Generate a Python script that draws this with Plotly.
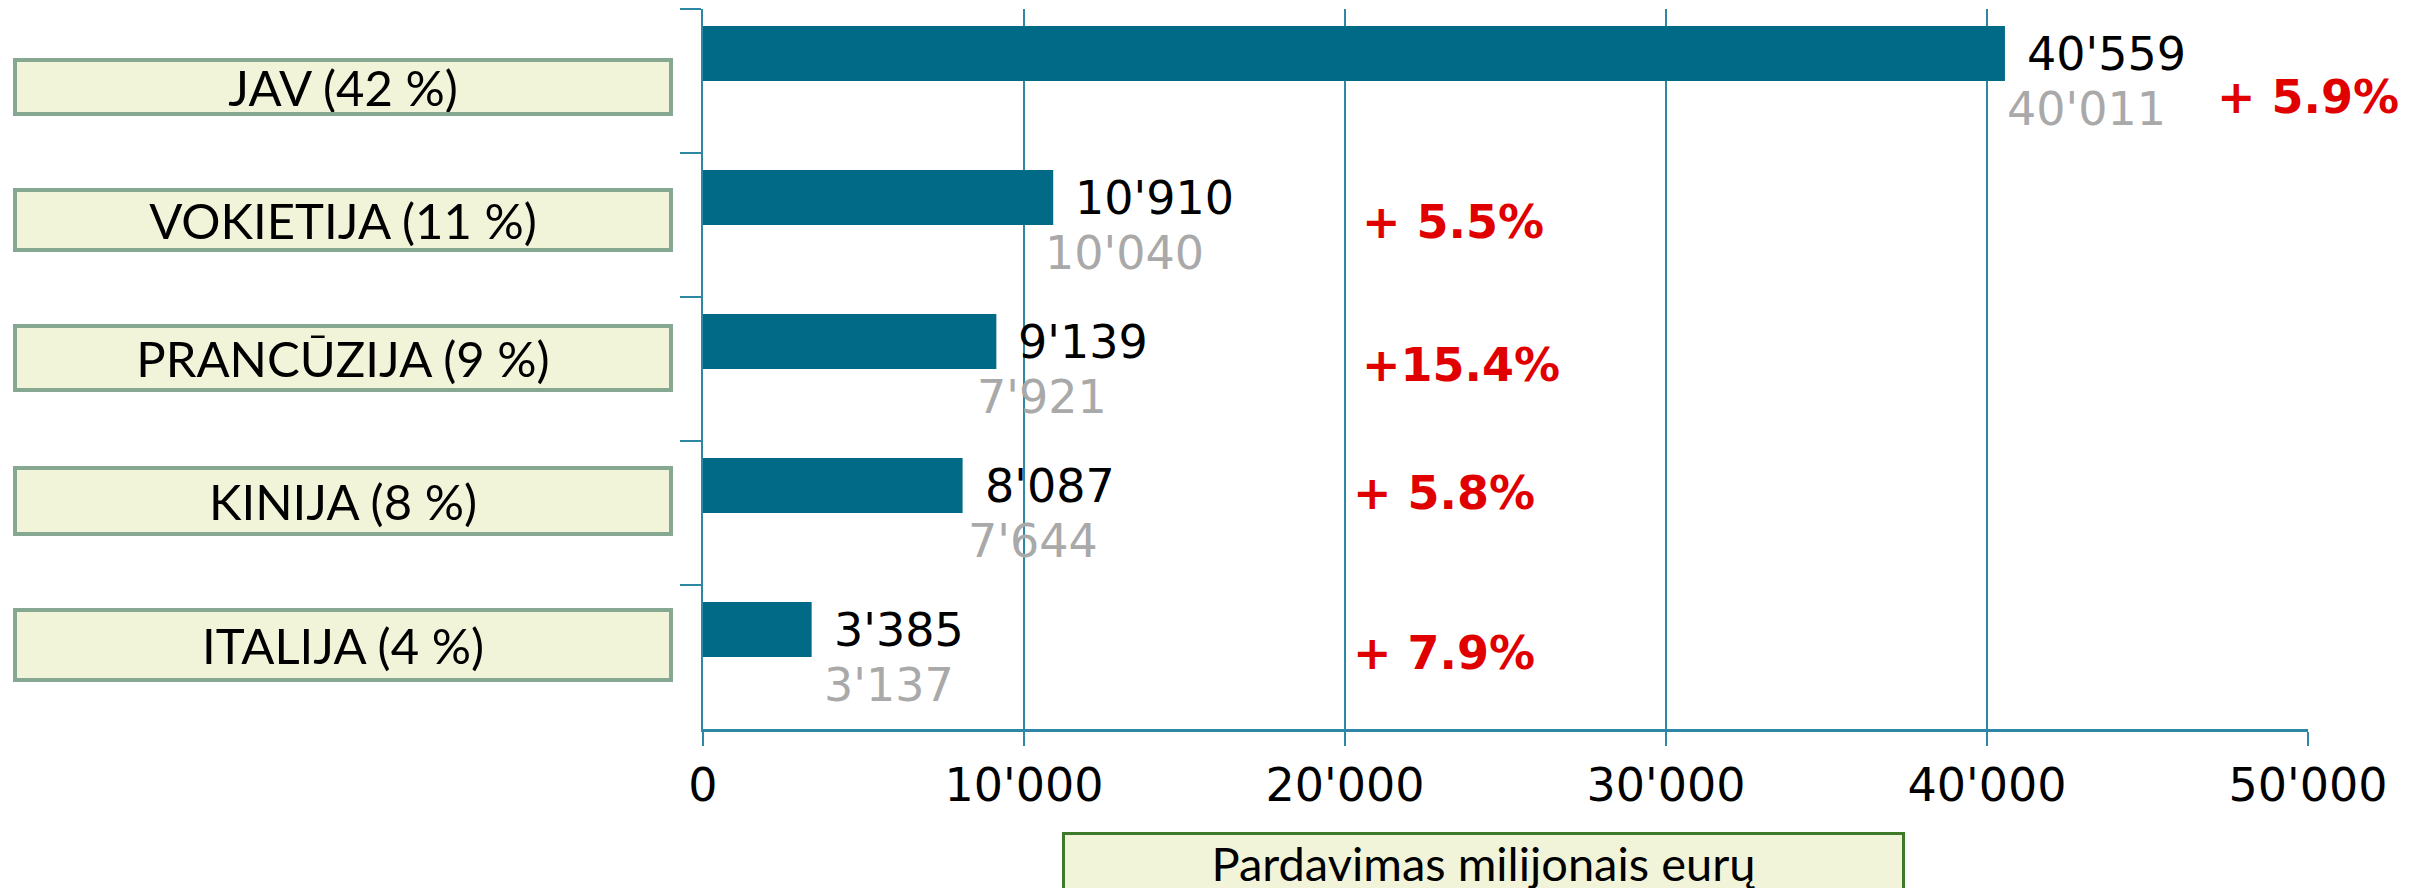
import plotly.graph_objects as go

# ---- data ----
categories = ["JAV", "VOKIETIJA", "PRANCŪZIJA", "KINIJA", "ITALIJA"]
shares = [42, 11, 9, 8, 4]
sales_current = [40559, 10910, 9139, 8087, 3385]
sales_previous = [40011, 10040, 7921, 7644, 3137]
growth_labels = ["+ 5.9%", "+ 5.5%", "+15.4%", "+ 5.8%", "+ 7.9%"]
x_tickvals = [0, 10000, 20000, 30000, 40000, 50000]
x_ticktext = ["0", "10'000", "20'000", "30'000", "40'000", "50'000"]
axis_title = "Pardavimas milijonais eurų"

# ---- styles ----
BAR = "#016a87"
GRID = "#2e87a5"
BOX_FILL = "#f1f4d9"
BOX_EDGE = "#86a893"
TITLE_EDGE = "#3d7a2a"
RED = "#e00000"
GRAY = "#a9a9a9"
NUM_FONT = "DejaVu Sans"
LBL_FONT = "Lato"

W, H = 2417, 888
OFF = 8  # page body margin
ML, MR, MT, MB = 703 - OFF, 117, 9 - OFF, 888 - (729 - OFF)
plot_w = W - ML - MR
plot_h = H - MT - MB

box_heights = [58, 64, 68, 70, 74]
box_yshift = [-6, 5, 11, 12, 12]
growth_x = [47100, 20470, 20470, 20190, 20190]
growth_yshift = [-16, 3, 4, 20, 4]


def fmt(v):
    return f"{v:,}".replace(",", "'")


def px_x(px):
    return (px - OFF - ML) / plot_w


def px_y(py):
    return (H - MB - (py - OFF)) / plot_h


fig = go.Figure()
fig.add_trace(go.Bar(y=categories, x=sales_current, orientation="h",
                     marker=dict(color=BAR, line=dict(width=0)),
                     hoverinfo="skip", showlegend=False))
fig.add_trace(go.Bar(y=categories, x=sales_previous, orientation="h",
                     marker=dict(color="rgba(0,0,0,0)", line=dict(width=0)),
                     hoverinfo="skip", showlegend=False))

annotations = []
for i, c in enumerate(categories):
    annotations.append(dict(x=sales_current[i], y=c, xref="x", yref="y",
                            text=fmt(sales_current[i]), showarrow=False,
                            xanchor="left", yanchor="middle", xshift=20,
                            yshift=27.5,
                            font=dict(family=NUM_FONT, size=46, color="#000000")))
    annotations.append(dict(x=sales_previous[i], y=c, xref="x", yref="y",
                            text=fmt(sales_previous[i]), showarrow=False,
                            xanchor="left", yanchor="middle", xshift=18,
                            yshift=-27.5,
                            font=dict(family=NUM_FONT, size=46, color=GRAY)))
    annotations.append(dict(x=growth_x[i], y=c, xref="x", yref="y",
                            text=growth_labels[i], showarrow=False,
                            xanchor="left", yanchor="middle",
                            yshift=growth_yshift[i],
                            font=dict(family=NUM_FONT, size=46, color=RED,
                                      weight="bold")))
    annotations.append(dict(x=px_x(13), y=c, xref="paper", yref="y",
                            text=f"{c} ({shares[i]} %)", showarrow=False,
                            xanchor="left", yanchor="middle",
                            yshift=box_yshift[i],
                            width=652, height=box_heights[i] - 8,
                            align="center", valign="middle",
                            bgcolor=BOX_FILL, bordercolor=BOX_EDGE,
                            borderwidth=4, borderpad=0,
                            font=dict(family=LBL_FONT, size=49, color="#000000")))

annotations.append(dict(x=px_x(1062), y=px_y(832),
                        xref="paper", yref="paper", text=axis_title,
                        showarrow=False, xanchor="left", yanchor="top",
                        width=843 - 6, height=70, borderwidth=3, borderpad=0,
                        bgcolor=BOX_FILL, bordercolor=TITLE_EDGE,
                        align="center", valign="top",
                        font=dict(family=LBL_FONT, size=47, color="#000000")))

fig.update_layout(
    width=W, height=H,
    margin=dict(l=ML, r=MR, t=MT, b=MB, pad=0),
    paper_bgcolor="white", plot_bgcolor="white",
    barmode="group", bargap=0.236, bargroupgap=0,
    annotations=annotations,
    xaxis=dict(range=[0, 50000], tickvals=x_tickvals, ticktext=x_ticktext,
               showgrid=True, gridcolor=GRID, gridwidth=2,
               showline=True, linecolor=GRID, linewidth=3,
               ticks="outside", ticklen=14, tickcolor=GRID, tickwidth=2,
               ticklabelstandoff=0, zeroline=False,
               tickfont=dict(family=NUM_FONT, size=46, color="#000000")),
    yaxis=dict(type="category", categoryorder="array", categoryarray=categories,
               autorange="reversed", showticklabels=False,
               showline=True, linecolor=GRID, linewidth=2,
               ticks="outside", tickson="boundaries", ticklen=21,
               tickcolor=GRID, tickwidth=2, showgrid=False, zeroline=False),
)

fig.write_html("out.html")
